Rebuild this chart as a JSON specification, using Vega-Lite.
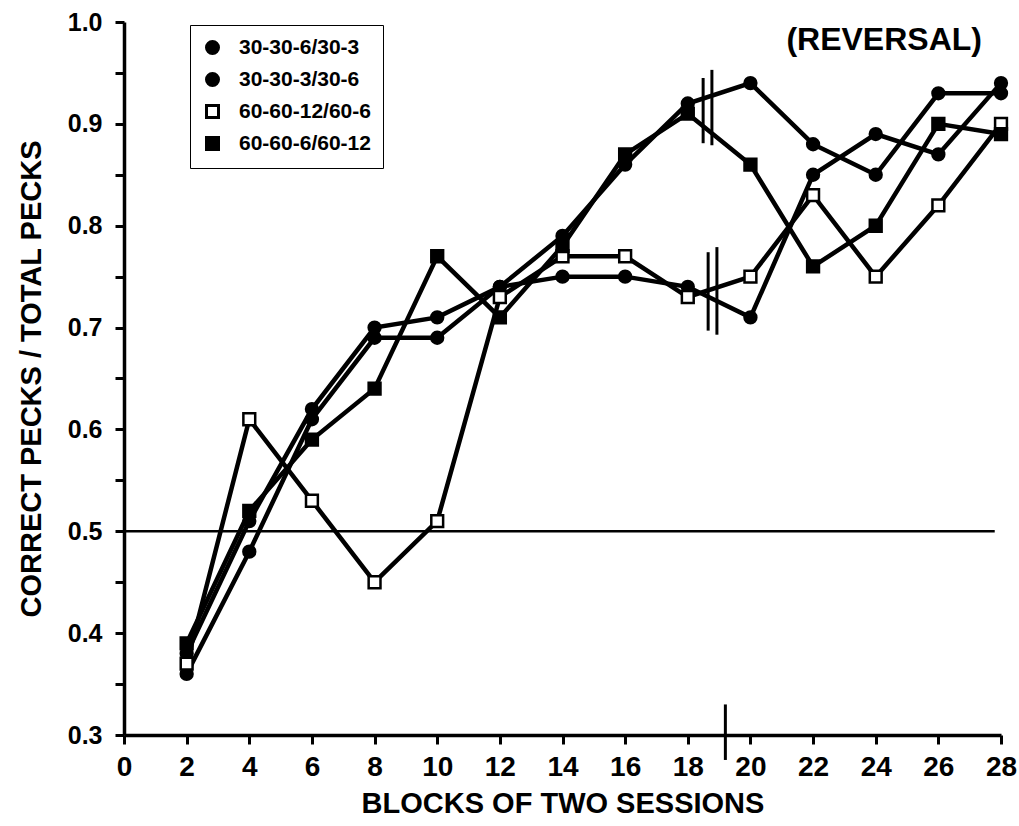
{
  "$schema": "https://vega.github.io/schema/vega-lite/v6.json",
  "width": 877,
  "height": 713,
  "autosize": {"type": "none"},
  "padding": {"left": 124, "top": 22, "right": 18, "bottom": 91},
  "background": "white",
  "config": {
    "view": {"stroke": null},
    "font": "Liberation Sans",
    "axis": {"ticks": true, "tickColor": "black", "tickWidth": 3, "tickSize": 9, "domainColor": "black", "domainWidth": 3.5, "grid": false}
  },
  "datasets": {
    "pecks": [
      {"series": "30-30-6/30-3", "block": 2, "p": 0.36},
      {"series": "30-30-6/30-3", "block": 4, "p": 0.48},
      {"series": "30-30-6/30-3", "block": 6, "p": 0.61},
      {"series": "30-30-6/30-3", "block": 8, "p": 0.69},
      {"series": "30-30-6/30-3", "block": 10, "p": 0.69},
      {"series": "30-30-6/30-3", "block": 12, "p": 0.74},
      {"series": "30-30-6/30-3", "block": 14, "p": 0.75},
      {"series": "30-30-6/30-3", "block": 16, "p": 0.75},
      {"series": "30-30-6/30-3", "block": 18, "p": 0.74},
      {"series": "30-30-6/30-3", "block": 20, "p": 0.71},
      {"series": "30-30-6/30-3", "block": 22, "p": 0.85},
      {"series": "30-30-6/30-3", "block": 24, "p": 0.89},
      {"series": "30-30-6/30-3", "block": 26, "p": 0.87},
      {"series": "30-30-6/30-3", "block": 28, "p": 0.94},
      {"series": "30-30-3/30-6", "block": 2, "p": 0.38},
      {"series": "30-30-3/30-6", "block": 4, "p": 0.51},
      {"series": "30-30-3/30-6", "block": 6, "p": 0.62},
      {"series": "30-30-3/30-6", "block": 8, "p": 0.70},
      {"series": "30-30-3/30-6", "block": 10, "p": 0.71},
      {"series": "30-30-3/30-6", "block": 12, "p": 0.74},
      {"series": "30-30-3/30-6", "block": 14, "p": 0.79},
      {"series": "30-30-3/30-6", "block": 16, "p": 0.86},
      {"series": "30-30-3/30-6", "block": 18, "p": 0.92},
      {"series": "30-30-3/30-6", "block": 20, "p": 0.94},
      {"series": "30-30-3/30-6", "block": 22, "p": 0.88},
      {"series": "30-30-3/30-6", "block": 24, "p": 0.85},
      {"series": "30-30-3/30-6", "block": 26, "p": 0.93},
      {"series": "30-30-3/30-6", "block": 28, "p": 0.93},
      {"series": "60-60-12/60-6", "block": 2, "p": 0.37},
      {"series": "60-60-12/60-6", "block": 4, "p": 0.61},
      {"series": "60-60-12/60-6", "block": 6, "p": 0.53},
      {"series": "60-60-12/60-6", "block": 8, "p": 0.45},
      {"series": "60-60-12/60-6", "block": 10, "p": 0.51},
      {"series": "60-60-12/60-6", "block": 12, "p": 0.73},
      {"series": "60-60-12/60-6", "block": 14, "p": 0.77},
      {"series": "60-60-12/60-6", "block": 16, "p": 0.77},
      {"series": "60-60-12/60-6", "block": 18, "p": 0.73},
      {"series": "60-60-12/60-6", "block": 20, "p": 0.75},
      {"series": "60-60-12/60-6", "block": 22, "p": 0.83},
      {"series": "60-60-12/60-6", "block": 24, "p": 0.75},
      {"series": "60-60-12/60-6", "block": 26, "p": 0.82},
      {"series": "60-60-12/60-6", "block": 28, "p": 0.90},
      {"series": "60-60-6/60-12", "block": 2, "p": 0.39},
      {"series": "60-60-6/60-12", "block": 4, "p": 0.52},
      {"series": "60-60-6/60-12", "block": 6, "p": 0.59},
      {"series": "60-60-6/60-12", "block": 8, "p": 0.64},
      {"series": "60-60-6/60-12", "block": 10, "p": 0.77},
      {"series": "60-60-6/60-12", "block": 12, "p": 0.71},
      {"series": "60-60-6/60-12", "block": 14, "p": 0.78},
      {"series": "60-60-6/60-12", "block": 16, "p": 0.87},
      {"series": "60-60-6/60-12", "block": 18, "p": 0.91},
      {"series": "60-60-6/60-12", "block": 20, "p": 0.86},
      {"series": "60-60-6/60-12", "block": 22, "p": 0.76},
      {"series": "60-60-6/60-12", "block": 24, "p": 0.80},
      {"series": "60-60-6/60-12", "block": 26, "p": 0.90},
      {"series": "60-60-6/60-12", "block": 28, "p": 0.89}
    ],
    "breaks": [
      {"bx": 18.49, "b1": 0.881, "b2": 0.945},
      {"bx": 18.77, "b1": 0.879, "b2": 0.953},
      {"bx": 18.65, "b1": 0.697, "b2": 0.774},
      {"bx": 18.93, "b1": 0.693, "b2": 0.779}
    ]
  },
  "layer": [
    {
      "data": {"name": "pecks"},
      "mark": {"type": "line", "color": "black", "strokeWidth": 4.5},
      "encoding": {
        "x": {"field": "block", "type": "quantitative", "scale": {"domain": [0, 28], "nice": false, "zero": false},
          "axis": {
            "values": [0, 2, 4, 6, 8, 10, 12, 14, 16, 18, 20, 22, 24, 26, 28],
            "title": "BLOCKS OF TWO SESSIONS",
            "ticks": true,
            "labelFont": "Liberation Sans Narrow, Liberation Sans", "labelFontWeight": "bold", "labelFontSize": 28, "labelColor": "black",
            "labelPadding": 9, "labelFlush": false,
            "titleFont": "Liberation Sans", "titleFontWeight": "bold", "titleFontSize": 29, "titleColor": "black",
            "titlePadding": 8
          }},
        "y": {"field": "p", "type": "quantitative", "scale": {"domain": [0.3, 1.0], "nice": false, "zero": false},
          "axis": {
            "values": [0.3, 0.35, 0.4, 0.45, 0.5, 0.55, 0.6, 0.65, 0.7, 0.75, 0.8, 0.85, 0.9, 0.95, 1.0],
            "labelExpr": "abs(datum.value * 10 - round(datum.value * 10)) < 0.01 ? format(datum.value, '.1f') : ''",
            "title": "CORRECT PECKS / TOTAL PECKS",
            "ticks": true,
            "labelFont": "Liberation Sans", "labelFontWeight": "bold", "labelFontSize": 25, "labelColor": "black",
            "labelPadding": 13,
            "titleFont": "Liberation Sans", "titleFontWeight": "bold", "titleFontSize": 29, "titleColor": "black",
            "titlePadding": 21
          }},
        "detail": {"field": "series"},
        "order": {"field": "block"}
      }
    },
    {
      "data": {"values": [{}]},
      "mark": {"type": "rule", "color": "black", "strokeWidth": 2.5},
      "encoding": {
        "x": {"datum": 0, "type": "quantitative"},
        "x2": {"datum": 27.8},
        "y": {"datum": 0.5, "type": "quantitative"}
      }
    },
    {
      "data": {"values": [{}]},
      "mark": {"type": "rule", "color": "black", "strokeWidth": 3},
      "encoding": {
        "x": {"datum": 19.2, "type": "quantitative"},
        "y": {"datum": 0.2755, "type": "quantitative"},
        "y2": {"datum": 0.33}
      }
    },
    {
      "data": {"name": "breaks"},
      "mark": {"type": "rule", "color": "black", "strokeWidth": 3},
      "encoding": {
        "x": {"field": "bx", "type": "quantitative"},
        "y": {"field": "b1", "type": "quantitative"},
        "y2": {"field": "b2"}
      }
    },
    {
      "data": {"name": "pecks"},
      "mark": {"type": "point", "filled": true, "stroke": "black", "strokeWidth": 2.5, "opacity": 1, "size": 140},
      "encoding": {
        "x": {"field": "block", "type": "quantitative"},
        "y": {"field": "p", "type": "quantitative"},
        "shape": {"field": "series", "type": "nominal",
          "scale": {"domain": ["30-30-6/30-3", "30-30-3/30-6", "60-60-12/60-6", "60-60-6/60-12"], "range": ["circle", "circle", "square", "square"]},
          "legend": {
            "title": null, "orient": "none", "legendX": 66, "legendY": 3,
            "labelFont": "Liberation Sans", "labelFontWeight": "bold", "labelFontSize": 21, "labelColor": "black",
            "symbolSize": 144, "symbolStrokeColor": "black", "symbolStrokeWidth": 3, "symbolOpacity": 1,
            "symbolFillColor": "black",
            "labelOffset": 16, "rowPadding": 7, "padding": 12,
            "strokeColor": "black"
          }},
        "fill": {"field": "series", "type": "nominal",
          "scale": {"domain": ["30-30-6/30-3", "30-30-3/30-6", "60-60-12/60-6", "60-60-6/60-12"], "range": ["black", "black", "white", "black"]},
          "legend": null}
      }
    },
    {
      "data": {"values": [{"label": "(REVERSAL)"}]},
      "mark": {"type": "text", "font": "Liberation Sans", "fontWeight": "bold", "fontSize": 32, "color": "black", "align": "center", "baseline": "middle"},
      "encoding": {
        "x": {"datum": 24.27, "type": "quantitative"},
        "y": {"datum": 0.982, "type": "quantitative"},
        "text": {"field": "label"}
      }
    }
  ]
}
